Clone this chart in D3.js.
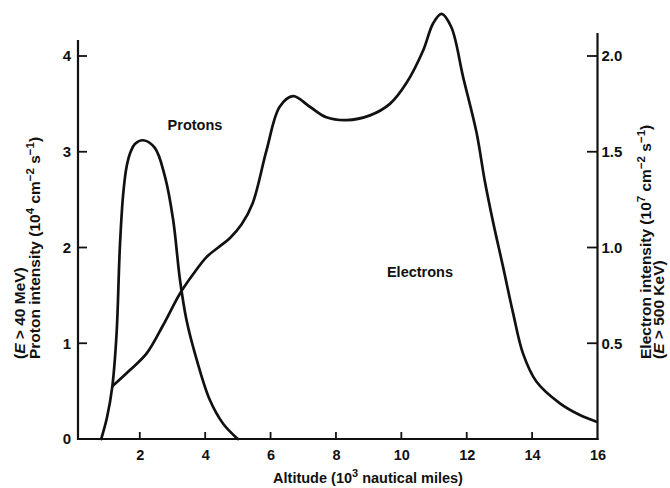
<!DOCTYPE html>
<html>
<head>
<meta charset="utf-8">
<script src="https://cdn.jsdelivr.net/npm/d3@7"></script>
<style>
  html, body { margin: 0; padding: 0; background: #fff; }
  svg { display: block; }
  text { font-family: "Liberation Sans", Arial, Helvetica, sans-serif; font-weight: bold; fill: #111; }
</style>
</head>
<body>
<svg id="chart" width="670" height="488"></svg>
<script>
// ---- Data ----
// Altitude (10^3 nautical miles) and proton intensity (10^4 cm^-2 s^-1)
const protonAltitude = [0.82, 1.0, 1.16, 1.29, 1.39, 1.49, 1.6, 1.72, 1.85, 2.1, 2.46, 2.77, 3.02, 3.23, 3.43, 3.74, 4.14, 4.55, 5.0];
const protonIntensity = [0, 0.23, 0.55, 1.1, 2.0, 2.55, 2.85, 3.0, 3.08, 3.12, 3.04, 2.74, 2.29, 1.66, 1.24, 0.83, 0.41, 0.16, 0];

// Altitude and electron intensity (10^7 cm^-2 s^-1)
const electronAltitude = [1.16, 1.7, 2.21, 2.7, 3.23, 3.63, 4.04, 4.4, 4.76, 5.11, 5.45, 5.88, 6.28, 6.69, 7.2, 7.71, 8.32, 9.04, 9.65, 10.16, 10.67, 10.97, 11.23, 11.53, 11.89, 12.3, 12.55, 12.81, 13.11, 13.42, 13.72, 14.13, 14.85, 15.46, 15.97];
const electronIntensity = [0.275, 0.36, 0.447, 0.59, 0.76, 0.86, 0.95, 1.0, 1.05, 1.12, 1.23, 1.51, 1.735, 1.79, 1.735, 1.68, 1.665, 1.69, 1.75, 1.86, 2.03, 2.17, 2.22, 2.15, 1.89, 1.60, 1.35, 1.13, 0.90, 0.656, 0.447, 0.30, 0.186, 0.125, 0.09];

const xTicks = [2, 4, 6, 8, 10, 12, 14, 16];
const leftTicks = [0, 1, 2, 3, 4];
const rightTicks = [0.5, 1.0, 1.5, 2.0];
const rightTickLabels = ["0.5", "1.0", "1.5", "2.0"];

// ---- Layout ----
const svg = d3.select("#chart");
const x = d3.scaleLinear().domain([0.11, 16]).range([78, 597.5]);
const yL = d3.scaleLinear().domain([0, 4]).range([439, 56]);
const yR = d3.scaleLinear().domain([0, 2]).range([439, 56]);

const axisColor = "#111";

// bottom axis
const xAxis = d3.axisBottom(x).tickValues(xTicks).tickSize(0).tickPadding(11);
const gx = svg.append("g").attr("transform", "translate(0,439)").call(xAxis);
gx.select(".domain").remove();
gx.selectAll("text").style("font-size", "14.5px").attr("fill", "#111");
svg.append("line").attr("x1", 78).attr("x2", 598.5).attr("y1", 439).attr("y2", 439)
  .attr("stroke", axisColor).attr("stroke-width", 2.2);
svg.append("g").selectAll("line").data(xTicks.slice(0, -1)).join("line")
  .attr("x1", d => x(d)).attr("x2", d => x(d)).attr("y1", 439).attr("y2", 432)
  .attr("stroke", axisColor).attr("stroke-width", 1.8);

// left axis
const gl = svg.append("g").attr("transform", "translate(78,0)")
  .call(d3.axisLeft(yL).tickValues(leftTicks).tickFormat(d3.format("d")).tickSize(0).tickPadding(7));
gl.select(".domain").remove();
gl.selectAll("text").style("font-size", "15px").attr("fill", "#111");
svg.append("line").attr("x1", 78).attr("x2", 78).attr("y1", 40).attr("y2", 440)
  .attr("stroke", axisColor).attr("stroke-width", 2.2);
svg.append("g").selectAll("line").data(leftTicks.slice(1)).join("line")
  .attr("x1", 78).attr("x2", 87).attr("y1", d => yL(d)).attr("y2", d => yL(d))
  .attr("stroke", axisColor).attr("stroke-width", 1.8);

// right axis
const gr = svg.append("g").attr("transform", "translate(597.5,0)")
  .call(d3.axisRight(yR).tickValues(rightTicks).tickFormat((d, i) => rightTickLabels[i]).tickSize(0).tickPadding(4));
gr.select(".domain").remove();
gr.selectAll("text").style("font-size", "15px").attr("fill", "#111");
svg.append("line").attr("x1", 597.5).attr("x2", 597.5).attr("y1", 33).attr("y2", 440)
  .attr("stroke", axisColor).attr("stroke-width", 2.2);
svg.append("g").selectAll("line").data(rightTicks).join("line")
  .attr("x1", 587).attr("x2", 597.5).attr("y1", d => yR(d)).attr("y2", d => yR(d))
  .attr("stroke", axisColor).attr("stroke-width", 1.8);

// ---- Curves ----
const protons = protonAltitude.map((a, i) => [a, protonIntensity[i]]);
const electrons = electronAltitude.map((a, i) => [a, electronIntensity[i]]);

svg.append("path").datum(protons)
  .attr("d", d3.line().x(d => x(d[0])).y(d => yL(d[1])).curve(d3.curveCatmullRom.alpha(0.5)))
  .attr("fill", "none").attr("stroke", "#111").attr("stroke-width", 2.7)
  .attr("stroke-linejoin", "round").attr("stroke-linecap", "round");

svg.append("path").datum(electrons)
  .attr("d", d3.line().x(d => x(d[0])).y(d => yR(d[1])).curve(d3.curveCatmullRom.alpha(0.5)))
  .attr("fill", "none").attr("stroke", "#111").attr("stroke-width", 2.7)
  .attr("stroke-linejoin", "round").attr("stroke-linecap", "round");

// ---- Labels ----
svg.append("text").attr("x", 195).attr("y", 130).attr("text-anchor", "middle")
  .style("font-size", "14.5px").text("Protons");
svg.append("text").attr("x", 420).attr("y", 277).attr("text-anchor", "middle")
  .style("font-size", "14.5px").text("Electrons");

// x title
const xt = svg.append("text").attr("x", 368).attr("y", 483).attr("text-anchor", "middle")
  .style("font-size", "14.5px");
xt.append("tspan").text("Altitude (10");
xt.append("tspan").attr("dy", -6).style("font-size", "11px").text("3");
xt.append("tspan").attr("dy", 6).text(" nautical miles)");

// axis titles
function sup(t, s) {
  t.append("tspan").attr("dy", -6).style("font-size", "11.5px").text(s);
}
function down(t, s) {
  t.append("tspan").attr("dy", 6).text(s);
}
const lt = svg.append("g").attr("transform", "translate(25,359) rotate(-90)");
const l1 = lt.append("text").attr("x", 0).attr("y", 0).style("font-size", "15.5px");
l1.append("tspan").text("(");
l1.append("tspan").style("font-style", "italic").text("E");
l1.append("tspan").text(" > 40 MeV)");
const l2 = lt.append("text").attr("x", 0).attr("y", 14.5).style("font-size", "15.5px");
l2.append("tspan").text("Proton intensity (10");
sup(l2, "4");
down(l2, " cm");
sup(l2, "\u22122");
down(l2, " s");
sup(l2, "\u22121");
down(l2, ")");

const rt = svg.append("g").attr("transform", "translate(651,359) rotate(-90)");
const r1 = rt.append("text").attr("x", 0).attr("y", 0).style("font-size", "15.5px");
r1.append("tspan").text("Electron intensity (10");
sup(r1, "7");
down(r1, " cm");
sup(r1, "\u22122");
down(r1, " s");
sup(r1, "\u22121");
down(r1, ")");
const r2 = rt.append("text").attr("x", 0).attr("y", 12.5).style("font-size", "15.5px");
r2.append("tspan").text("(");
r2.append("tspan").style("font-style", "italic").text("E");
r2.append("tspan").text(" > 500 KeV)");
</script>
</body>
</html>
